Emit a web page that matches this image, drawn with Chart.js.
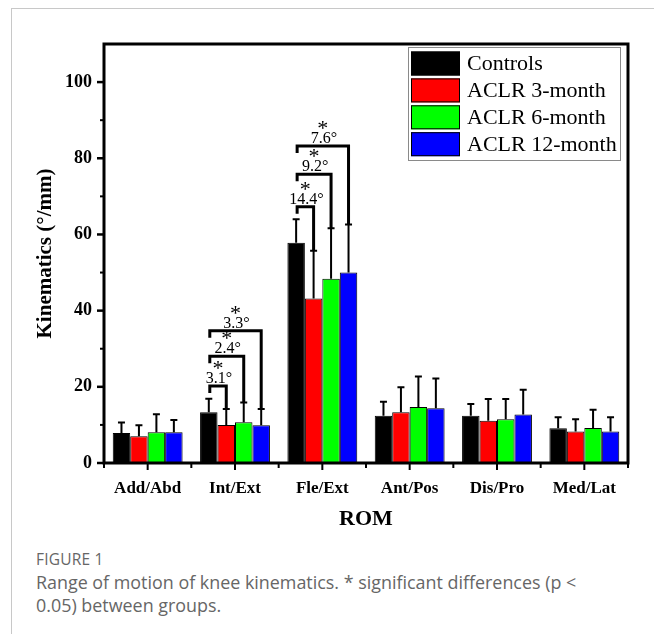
<!DOCTYPE html>
<html>
<head>
<meta charset="utf-8">
<script src="https://cdn.jsdelivr.net/npm/chart.js@4.4.1/dist/chart.umd.min.js"></script>
<style>
  html, body { margin: 0; padding: 0; background: #fff; width: 654px; height: 634px; overflow: hidden; }
  #frame { position: absolute; left: 11px; top: 8px; width: 720px; height: 720px; border: 1px solid #c8c8c8; box-sizing: border-box; }
  #wrap { position: absolute; left: 0; top: 0; width: 654px; height: 540px; }
  .cap { position: absolute; left: 36px; font-family: "Open Sans", "Noto Sans", sans-serif; color: #666; }
  #fig { top: 548px; font-size: 15.5px; letter-spacing: 0.2px; }
  #txt { top: 571px; font-size: 17.9px; line-height: 23px; width: 610px; }
</style>
</head>
<body>
<div id="frame"></div>
<div id="wrap"><canvas id="c" width="654" height="540"></canvas></div>
<div class="cap" id="fig">FIGURE 1</div>
<div class="cap" id="txt">Range of motion of knee kinematics. * significant differences (p &lt;<br>0.05) between groups.</div>
<script>
// ---- data ----
const categories = ['Add/Abd', 'Int/Ext', 'Fle/Ext', 'Ant/Pos', 'Dis/Pro', 'Med/Lat'];
const seriesNames = ['Controls', 'ACLR 3-month', 'ACLR 6-month', 'ACLR 12-month'];
const controls = [7.9, 13.3, 57.8, 12.4, 12.4, 9.1];
const aclr3 = [7.0, 10.0, 43.2, 13.3, 11.1, 8.3];
const aclr6 = [8.1, 10.7, 48.4, 14.7, 11.5, 9.2];
const aclr12 = [8.1, 9.9, 50.0, 14.4, 12.7, 8.3];
const controlsSD = [2.7, 3.6, 6.2, 3.7, 3.1, 2.9];
const aclr3SD = [2.9, 4.2, 12.5, 6.6, 5.7, 3.2];
const aclr6SD = [4.7, 5.2, 13.2, 8.0, 5.3, 4.8];
const aclr12SD = [3.2, 4.3, 12.6, 7.8, 6.5, 3.7];
const yTicks = [0, 20, 40, 60, 80, 100];
const yMinorTicks = [10, 30, 50, 70, 90];
// significance brackets
const bracketCategory = [1, 1, 1, 2, 2, 2];
const bracketToSeries = [1, 2, 3, 1, 2, 3];
const bracketLevel = [20.2, 28.0, 34.7, 67.3, 75.8, 83.2];
const bracketLabels = ['3.1°', '2.4°', '3.3°', '14.4°', '9.2°', '7.6°'];

const colors = ['#000000', '#ff0000', '#00ff00', '#0000ff'];
const values = [controls, aclr3, aclr6, aclr12];
const sds = [controlsSD, aclr3SD, aclr6SD, aclr12SD];

const SERIF = '"Liberation Serif", "Times New Roman", serif';

const customDraw = {
  id: 'customDraw',
  afterDatasetsDraw(chart) {
    const ctx = chart.ctx;
    const y = chart.scales.y;
    ctx.save();
    ctx.strokeStyle = '#000';
    ctx.lineWidth = 2;
    chart.data.datasets.forEach((ds, i) => {
      const meta = chart.getDatasetMeta(i);
      meta.data.forEach((bar, j) => {
        const top = y.getPixelForValue(ds.data[j] + ds.sd[j]);
        ctx.beginPath();
        ctx.moveTo(bar.x, bar.y);
        ctx.lineTo(bar.x, top);
        ctx.moveTo(bar.x - 3.5, top);
        ctx.lineTo(bar.x + 3.5, top);
        ctx.stroke();
      });
    });
    ctx.restore();
  },
  afterDraw(chart) {
    const ctx = chart.ctx;
    const a = chart.chartArea;
    const ys = chart.scales.y;
    const xs = chart.scales.x;
    ctx.save();
    // frame
    ctx.strokeStyle = '#000';
    ctx.lineWidth = 3;
    ctx.strokeRect(a.left, a.top, a.right - a.left, a.bottom - a.top);
    // y ticks
    ctx.lineWidth = 2.5;
    yTicks.forEach(v => {
      const p = ys.getPixelForValue(v);
      ctx.beginPath(); ctx.moveTo(a.left - 7, p); ctx.lineTo(a.left, p); ctx.stroke();
    });
    ctx.lineWidth = 2;
    yMinorTicks.forEach(v => {
      const p = ys.getPixelForValue(v);
      ctx.beginPath(); ctx.moveTo(a.left - 4, p); ctx.lineTo(a.left, p); ctx.stroke();
    });
    // x ticks (centers + boundaries)
    ctx.lineWidth = 2;
    const n = categories.length;
    const step = (a.right - a.left) / n;
    for (let k = 0; k <= n; k++) {
      const p = a.left + k * step;
      ctx.beginPath(); ctx.moveTo(p, a.bottom); ctx.lineTo(p, a.bottom + 5); ctx.stroke();
    }
    categories.forEach((c, k) => {
      const p = xs.getPixelForValue(k);
      ctx.beginPath(); ctx.moveTo(p, a.bottom); ctx.lineTo(p, a.bottom + 7); ctx.stroke();
    });
    // brackets
    bracketLevel.forEach((lvl, b) => {
      const cat = bracketCategory[b];
      const to = bracketToSeries[b];
      const b0 = chart.getDatasetMeta(0).data[cat];
      const b1 = chart.getDatasetMeta(to).data[cat];
      const ly = ys.getPixelForValue(lvl);
      const endY = ys.getPixelForValue(values[to][cat] + sds[to][cat]);
      const x0 = b0.x + 1, x1 = b1.x;
      ctx.lineWidth = 3;
      ctx.strokeStyle = '#000';
      ctx.lineJoin = 'miter';
      ctx.beginPath();
      ctx.moveTo(x0, ly + 7);
      ctx.lineTo(x0, ly);
      ctx.lineTo(x1, ly);
      ctx.lineTo(x1, endY);
      ctx.stroke();
      const mx = (x0 + x1) / 2;
      ctx.fillStyle = '#000';
      ctx.font = '16px ' + SERIF;
      ctx.textAlign = 'center';
      ctx.textBaseline = 'alphabetic';
      ctx.fillText(bracketLabels[b], mx + 1, ly - 3);
      ctx.font = '22px ' + SERIF;
      const m = ctx.measureText('*');
      const cy = ly - 21;
      const off = (m.actualBoundingBoxAscent - m.actualBoundingBoxDescent) / 2;
      ctx.fillText('*', mx, cy + off);
    });
    // legend
    const lx = 408, ly0 = 47, lw = 212, lh = 113;
    ctx.fillStyle = '#fff';
    ctx.fillRect(lx, ly0, lw, lh);
    ctx.strokeStyle = '#8a8a8a';
    ctx.lineWidth = 1;
    ctx.strokeRect(lx + 0.5, ly0 + 0.5, lw, lh);
    chart.data.datasets.forEach((ds, i) => {
      const top = ly0 + 4.5 + i * 26.9;
      ctx.fillStyle = ds.backgroundColor;
      ctx.fillRect(lx + 3, top, 49, 24);
      ctx.strokeStyle = '#000';
      ctx.lineWidth = 1;
      ctx.strokeRect(lx + 3.5, top + 0.5, 48, 23);
      ctx.fillStyle = '#000';
      ctx.font = '22px ' + SERIF;
      ctx.textAlign = 'left';
      ctx.textBaseline = 'middle';
      ctx.fillText(ds.label, lx + 59, top + 13);
    });
    // axis titles
    ctx.fillStyle = '#000';
    ctx.font = 'bold 22px ' + SERIF;
    ctx.textAlign = 'center';
    ctx.textBaseline = 'middle';
    ctx.fillText('ROM', (a.left + a.right) / 2, 519);
    ctx.save();
    ctx.translate(46, (a.top + a.bottom) / 2);
    ctx.rotate(-Math.PI / 2);
    ctx.font = 'bold 21px ' + SERIF;
    ctx.fillText('Kinematics (°/mm)', 0, 0);
    ctx.restore();
    ctx.restore();
  }
};

new Chart(document.getElementById('c'), {
  type: 'bar',
  data: {
    labels: categories,
    datasets: seriesNames.map((name, i) => ({
      label: name,
      data: values[i],
      sd: sds[i],
      backgroundColor: colors[i],
      borderColor: '#000',
      borderWidth: 1,
      barPercentage: 1.0,
      categoryPercentage: 0.8
    }))
  },
  options: {
    responsive: false,
    animation: false,
    events: [],
    layout: { padding: { top: 44, right: 26, left: 0, bottom: 0 } },
    plugins: { legend: { display: false }, tooltip: { enabled: false } },
    scales: {
      x: {
        grid: { display: false, drawTicks: false },
        border: { display: false },
        ticks: { color: '#000', font: { family: SERIF, size: 17, weight: 'bold' }, padding: 15, maxRotation: 0 },
        afterFit(s) { s.height = 77; }
      },
      y: {
        min: 0, max: 110,
        grid: { display: false, drawTicks: false },
        border: { display: false },
        ticks: { color: '#000', font: { family: SERIF, size: 18, weight: 'bold' }, padding: 12 },
        afterBuildTicks(s) { s.ticks = yTicks.map(v => ({ value: v })); },
        afterFit(s) { s.width = 104; }
      }
    }
  },
  plugins: [customDraw]
});
</script>
</body>
</html>
